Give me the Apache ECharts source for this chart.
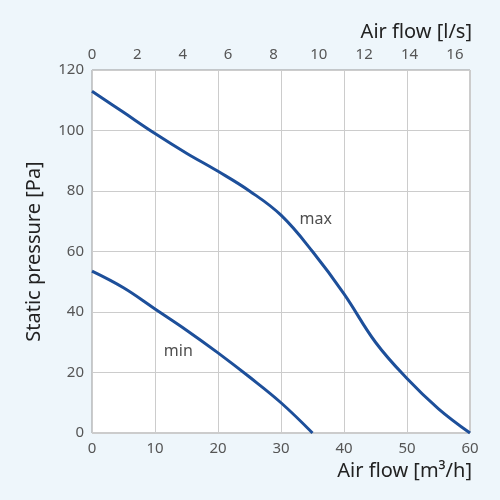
<!DOCTYPE html>
<html><head><meta charset="utf-8">
<script src="https://cdn.jsdelivr.net/npm/echarts@6/dist/echarts.min.js"></script>
<style>html,body{margin:0;background:#eef6fb}#main{width:500px;height:500px}</style>
</head><body><div id="main"></div>
<script>
var maxFlow = [0, 5, 10, 15, 20, 25, 30, 35, 40, 45, 50, 55, 60];
var maxPress = [113, 106, 99, 92.5, 86.5, 80, 72, 60, 46, 30, 18, 8, 0];
var minFlow = [0, 5, 10, 15, 20, 25, 30, 35];
var minPress = [53.5, 48, 41, 34, 26.5, 18.5, 10, 0];
var labels = [[35.5, 70.5, 'max'], [13.7, 27, 'min']];

function pairs(xs, ys){ return xs.map(function(x,i){ return [x, ys[i]]; }); }
var lineColor = '#1d4f9a';
var txt = {color:'#555', fontSize:15, fontFamily:'Noto Sans'};
var myChart = echarts.init(document.getElementById('main'));
myChart.setOption({
    backgroundColor:'#eef6fb',
    grid:{left:92, right:30, top:70, bottom:67, show:true, backgroundColor:'#fff', borderColor:'#999', borderWidth:1},
    xAxis:[{
        type:'value', min:0, max:60, interval:10, position:'bottom',
        name:'Air flow [m³/h]', nameLocation:'end', nameGap:0,
        nameTextStyle:{color:'#222', fontSize:20, fontFamily:'Noto Sans', align:'right', verticalAlign:'top', padding:[28,-2,0,0]},
        axisLine:{show:false}, axisTick:{show:false},
        axisLabel:txt, splitLine:{lineStyle:{color:'#ccc'}}
    },{
        type:'value', min:0, max:60/3.6, interval:2, position:'top',
        name:'Air flow [l/s]', nameLocation:'end', nameGap:0,
        nameTextStyle:{color:'#222', fontSize:20, fontFamily:'Noto Sans', align:'right', verticalAlign:'bottom', padding:[0,-2,28,0]},
        axisLine:{show:false}, axisTick:{show:false},
        axisLabel:Object.assign({showMaxLabel:false}, txt), splitLine:{show:false}
    }],
    yAxis:{
        type:'value', min:0, max:120, interval:20,
        name:'Static pressure [Pa]', nameLocation:'middle', nameGap:48,
        nameTextStyle:{color:'#222', fontSize:20, fontFamily:'Noto Sans'},
        axisLine:{show:false}, axisTick:{show:false},
        axisLabel:txt, splitLine:{lineStyle:{color:'#ccc'}}
    },
    series:[
        {type:'line', data:pairs(maxFlow,maxPress), smooth:0.4, symbol:'none', lineStyle:{color:lineColor, width:3}},
        {type:'line', data:pairs(minFlow,minPress), smooth:0.4, symbol:'none', lineStyle:{color:lineColor, width:3}},
        {type:'scatter', data:labels, symbolSize:0,
         label:{show:true, position:'inside', formatter:function(p){return p.data[2];}, color:'#222', fontSize:16, fontFamily:'Noto Sans'}}
    ]
});
</script></body></html>
